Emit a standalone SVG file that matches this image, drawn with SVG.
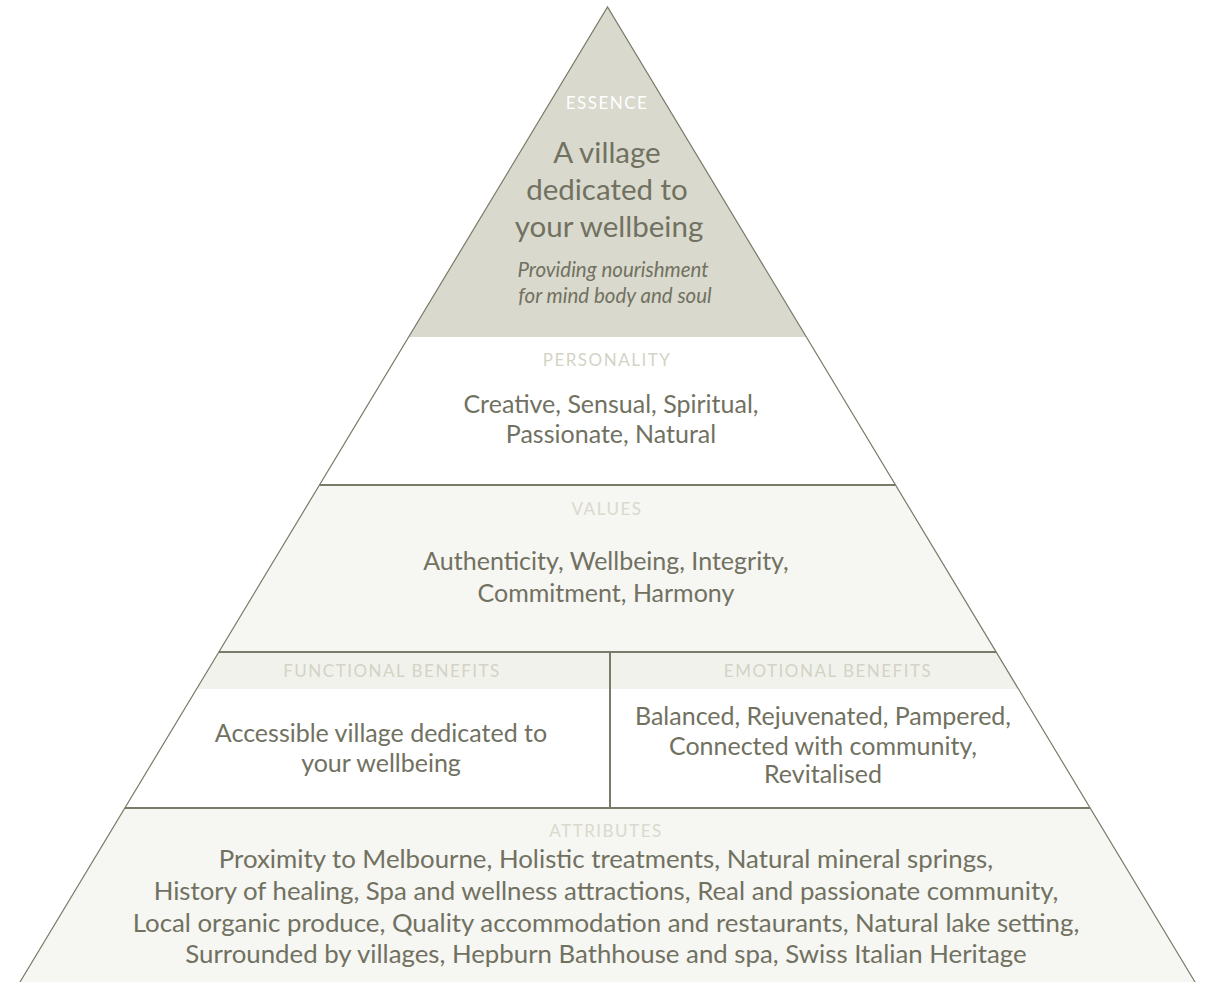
<svg xmlns="http://www.w3.org/2000/svg" width="1207" height="982" viewBox="0 0 1207 982">
<style>
.body{font-family:Lato,"Open Sans",sans-serif;font-size:25px;fill:#717161;text-anchor:middle}
.attr{font-size:25.8px}
.big{font-family:Lato,"Open Sans",sans-serif;font-size:29.5px;fill:#717161;text-anchor:middle}
.ital{font-family:Lato,"Open Sans",sans-serif;font-size:20.5px;font-style:italic;fill:#717161;text-anchor:middle}
.hdr{font-family:Lato,"Open Sans",sans-serif;font-size:17px;letter-spacing:1.5px;fill:#d3d3c6;text-anchor:middle}
.sep{stroke:#7a7a68;stroke-width:2;fill:none}
</style>
<rect width="1207" height="982" fill="#ffffff"/>
<g id="essence">
<polygon points="607.5,7 806.4,337 408.6,337" fill="#d9d9cd"/>
<text class="hdr" x="607" y="109" style="fill:#ffffff">ESSENCE</text>
<text class="big" x="607" y="163">A village</text>
<text class="big" x="607" y="200">dedicated to</text>
<text class="big" x="609" y="237">your wellbeing</text>
<text class="ital" x="613" y="277">Providing nourishment</text>
<text class="ital" x="615" y="303">for mind body and soul</text>
</g>
<g id="personality">
<polygon points="408.6,337 806.4,337 895.5,485 319.5,485" fill="#ffffff"/>
<text class="hdr" x="607" y="366">PERSONALITY</text>
<text class="body" x="611" y="413">Creative, Sensual, Spiritual,</text>
<text class="body" x="611" y="443">Passionate, Natural</text>
</g>
<g id="values">
<polygon points="319.5,485 895.5,485 996.2,652 218.8,652" fill="#f6f6f2"/>
<text class="hdr" x="607" y="515" style="fill:#d9d9ce">VALUES</text>
<text class="body" x="606" y="570">Authenticity, Wellbeing, Integrity,</text>
<text class="body" x="606" y="602">Commitment, Harmony</text>
</g>
<g id="functional-benefits">
<polygon points="218.8,652 610,652 610,808 124.8,808" fill="#ffffff"/>
<polygon points="218.8,652 610,652 610,689 196.5,689" fill="#f2f2ed"/>
<text class="hdr" x="392" y="677">FUNCTIONAL BENEFITS</text>
<text class="body" x="381" y="742">Accessible village dedicated to</text>
<text class="body" x="381" y="772">your wellbeing</text>
</g>
<g id="emotional-benefits">
<polygon points="610,652 996.2,652 1090.2,808 610,808" fill="#ffffff"/>
<polygon points="610,652 996.2,652 1018.5,689 610,689" fill="#f2f2ed"/>
<text class="hdr" x="828" y="677">EMOTIONAL BENEFITS</text>
<text class="body" x="823" y="725">Balanced, Rejuvenated, Pampered,</text>
<text class="body" x="823" y="755">Connected with community,</text>
<text class="body" x="823" y="783">Revitalised</text>
</g>
<g id="attributes">
<polygon points="124.8,808 1090.2,808 1195,982 20,982" fill="#f6f6f2"/>
<text class="hdr" x="606" y="837" style="fill:#d9d9ce">ATTRIBUTES</text>
<text class="body attr" x="606" y="868">Proximity to Melbourne, Holistic treatments, Natural mineral springs,</text>
<text class="body attr" x="606" y="900">History of healing, Spa and wellness attractions, Real and passionate community,</text>
<text class="body attr" x="606" y="932">Local organic produce, Quality accommodation and restaurants, Natural lake setting,</text>
<text class="body attr" x="606" y="963">Surrounded by villages, Hepburn Bathhouse and spa, Swiss Italian Heritage</text>
</g>
<g id="connectors">
<line class="sep" x1="319.5" y1="485" x2="895.5" y2="485"/>
<line class="sep" x1="218.8" y1="652" x2="996.2" y2="652"/>
<line class="sep" x1="124.8" y1="808" x2="1090.2" y2="808"/>
<line class="sep" x1="610" y1="652" x2="610" y2="808"/>
<polyline points="20,982 607.5,7 1195,982" fill="none" stroke="#7a7a68" stroke-width="1.2"/>
</g>
</svg>
